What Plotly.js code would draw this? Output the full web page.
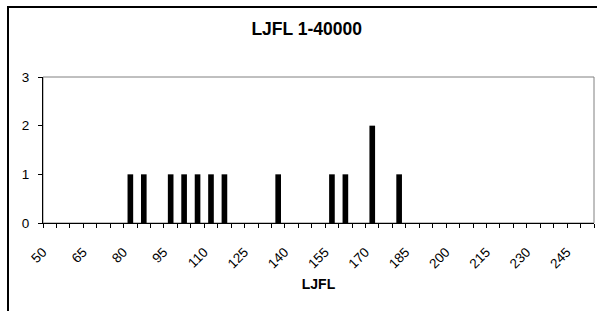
<!DOCTYPE html>
<html>
<head>
<meta charset="utf-8">
<script src="https://cdn.plot.ly/plotly-3.0.1.min.js"></script>
<style>
html,body{margin:0;padding:0;background:#fff;overflow:hidden;}
#wrap{position:relative;width:597px;height:311px;}
#chart{width:597px;height:311px;}
#frame{position:absolute;left:7px;top:6px;width:620px;height:340px;border-top:2px solid #000;border-left:2px solid #000;pointer-events:none;z-index:10;}
</style>
</head>
<body>
<div id="wrap"><div id="chart"></div><div id="frame"></div></div>
<script>
// LJFL bins (5-unit classes) that have fish, and their counts
const binValues = [80, 85, 95, 100, 105, 110, 115, 135, 155, 160, 170, 180];
const counts    = [1, 1, 1, 1, 1, 1, 1, 1, 1, 1, 2, 1];
// Labelled categories on the axis
const tickLabels = [50, 65, 80, 95, 110, 125, 140, 155, 170, 185, 200, 215, 230, 245];
const yTicks = [0, 1, 2, 3];

const trace = {
  type: 'bar',
  x: binValues,
  y: counts,
  width: 2.1,
  marker: {color: '#000000', line: {width: 0}},
  hoverinfo: 'x+y'
};

const fam = 'Liberation Sans, Arial, sans-serif';
const font = {family: fam, color: '#000', size: 13.5};

const layout = {
  width: 597, height: 311,
  margin: {l: 43, r: 3, t: 77, b: 88, pad: 0},
  paper_bgcolor: '#fff', plot_bgcolor: '#fff',
  font: font,
  showlegend: false,
  title: {text: '<b>LJFL 1-40000</b>', font: {family: fam, size: 17.5, color: '#000'},
          x: 0.4786, xref: 'paper', xanchor: 'center', y: 0.9077, yref: 'container', yanchor: 'middle'},
  xaxis: {
    type: 'linear',
    range: [47.5, 252.5],
    tickmode: 'array',
    tickvals: tickLabels,
    ticktext: tickLabels.map(String),
    tickangle: -45,
    ticks: '',
    ticklabelshift: -7,
    ticklabelstandoff: 15,
    tickfont: {family: fam, size: 13.5, color: '#000'},
    minor: {tick0: 47.5, dtick: 5, ticks: 'outside', ticklen: 4, tickwidth: 1, tickcolor: '#000', showgrid: false},
    showline: true, linecolor: '#000', linewidth: 1,
    showgrid: false, zeroline: false, fixedrange: true,
    title: {text: '<b>LJFL</b>', font: {family: fam, size: 14, color: '#000'}, standoff: 8}
  },
  yaxis: {
    range: [0, 3],
    tickmode: 'array',
    tickvals: yTicks,
    ticks: 'outside', ticklen: 4, tickwidth: 1, tickcolor: '#000',
    ticklabelstandoff: 6,
    tickfont: {family: fam, size: 13.5, color: '#000'},
    showline: true, linecolor: '#000', linewidth: 1,
    showgrid: false, zeroline: false, fixedrange: true
  },
  shapes: [
    {type: 'rect', xref: 'paper', yref: 'paper', x0: 0, x1: 1, y0: 0, y1: 1,
     line: {color: '#808080', width: 1}, layer: 'below'}
  ]
};

Plotly.newPlot('chart', [trace], layout, {displayModeBar: false, staticPlot: true});
</script>
</body>
</html>
